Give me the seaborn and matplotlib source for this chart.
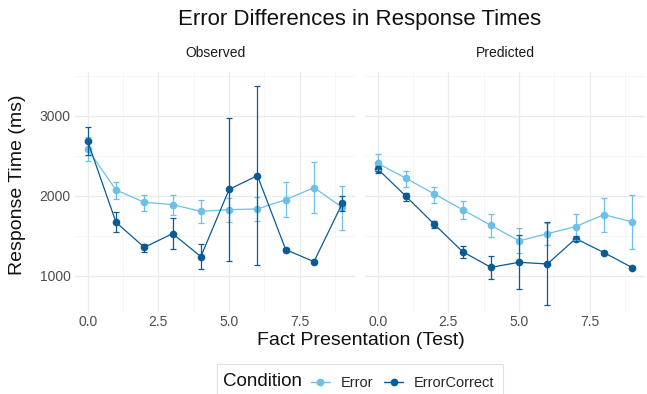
import numpy as np
import pandas as pd
import matplotlib
matplotlib.use("Agg")
import matplotlib.pyplot as plt
from matplotlib.lines import Line2D
from matplotlib.patches import Rectangle
import seaborn as sns

presentations = [0, 1, 2, 3, 4, 5, 6, 7, 8, 9]
conditions = ["Error", "ErrorCorrect"]
panels = ["Observed", "Predicted"]

obs_error = [2583, 2075, 1921, 1892, 1808, 1829, 1838, 1954, 2104, 1858]
obs_error_lo = [2437, 1958, 1817, 1758, 1658, 1671, 1683, 1733, 1783, 1579]
obs_error_hi = [2742, 2179, 2012, 2012, 1950, 1971, 1983, 2179, 2429, 2125]

obs_corr = [2683, 1671, 1358, 1529, 1242, 2083, 2254, 1329, 1179, 1908]
obs_corr_lo = [2512, 1546, 1296, 1333, 1083, 1188, 1138, 1300, 1160, 1810]
obs_corr_hi = [2858, 1796, 1400, 1721, 1400, 2971, 3375, 1355, 1200, 2000]

pred_error = [2408, 2221, 2025, 1829, 1633, 1438, 1529, 1617, 1767, 1675]
pred_error_lo = [2320, 2117, 1917, 1708, 1492, 1283, 1388, 1450, 1546, 1342]
pred_error_hi = [2521, 2313, 2117, 1942, 1771, 1596, 1658, 1775, 1975, 2008]

pred_corr = [2338, 1996, 1646, 1304, 1108, 1171, 1150, 1467, 1292, 1104]
pred_corr_lo = [2283, 1938, 1596, 1221, 958, 833, 637, 1440, 1270, 1085]
pred_corr_hi = [2379, 2033, 1692, 1375, 1254, 1513, 1671, 1495, 1315, 1125]

series = {
    ("Observed", "Error"): (obs_error, obs_error_lo, obs_error_hi),
    ("Observed", "ErrorCorrect"): (obs_corr, obs_corr_lo, obs_corr_hi),
    ("Predicted", "Error"): (pred_error, pred_error_lo, pred_error_hi),
    ("Predicted", "ErrorCorrect"): (pred_corr, pred_corr_lo, pred_corr_hi),
}

rows = []
for (panel, cond), (m, lo, hi) in series.items():
    for x, v, l, h in zip(presentations, m, lo, hi):
        rows.append(dict(panel=panel, cond=cond, x=x, rt=v, lo=l, hi=h))
df = pd.DataFrame(rows)

colors = {"Error": "#6cc0e8", "ErrorCorrect": "#0a5a96"}

sns.set_theme(style="whitegrid")
plt.rcParams["font.family"] = ["Liberation Sans", "DejaVu Sans"]

fig = plt.figure(figsize=(6.47, 3.94), dpi=100)
W, H = 647, 394
TOP, BOT = 72, 313
axes = []
for left, right in [(75, 355), (365, 645)]:
    ax = fig.add_axes([left / W, 1 - BOT / H, (right - left) / W, (BOT - TOP) / H])
    axes.append(ax)

for ax, panel in zip(axes, panels):
    sub = df[df.panel == panel]
    sns.lineplot(data=sub, x="x", y="rt", hue="cond", hue_order=conditions,
                 palette=colors, marker="o", markersize=5.5, markeredgewidth=0,
                 linewidth=0.9, ax=ax, legend=False, errorbar=None)
    for cond in conditions:
        s = sub[sub.cond == cond]
        ax.errorbar(s.x, s.rt, yerr=[s.rt - s.lo, s.hi - s.rt], fmt="none",
                    ecolor=colors[cond], elinewidth=0.9, capsize=2, capthick=0.9)
    ax.set_xlim(-0.45, 9.45)
    ax.set_ylim(537, 3550)
    ax.set_xticks([0, 2.5, 5.0, 7.5])
    ax.set_xticklabels(["0.0", "2.5", "5.0", "7.5"])
    ax.set_xticks([1.25, 3.75, 6.25, 8.75], minor=True)
    ax.set_yticks([1000, 2000, 3000])
    ax.set_yticks([1500, 2500, 3500], minor=True)
    ax.grid(True, which="major", color="#ebebeb", linewidth=0.9)
    ax.grid(True, which="minor", color="#f3f3f3", linewidth=0.5)
    ax.set_facecolor("white")
    for sp in ax.spines.values():
        sp.set_visible(False)
    ax.tick_params(axis="both", which="both", length=0, labelsize=10,
                   labelcolor="#4d4d4d")
    ax.tick_params(axis="x", pad=1.5)
    ax.tick_params(axis="y", pad=3)
    ax.set_xlabel("")
    ax.set_ylabel("")
    ax.set_title(panel, fontsize=10, color="#1a1a1a", pad=11)

axes[1].tick_params(axis="y", labelleft=False)

fig.text(360 / W, 1 - 20 / H, "Error Differences in Response Times",
         ha="center", va="center", fontsize=16, color="#111111")
fig.text(361 / W, 1 - 345 / H, "Fact Presentation (Test)",
         ha="center", va="baseline", fontsize=14, color="#111111")
fig.text(18 / W, 1 - 185 / H, "Response Time (ms)", rotation=90,
         ha="center", va="center", fontsize=14, color="#111111")

# legend box (cut at bottom edge like the reference)
fig.patches.append(Rectangle((217 / W, -0.05), (503 - 217) / W, 0.05 + (394 - 364) / H,
                             transform=fig.transFigure, fill=False,
                             edgecolor="#e0e0e0", linewidth=0.8))
fig.text(223 / W, 1 - 382 / H, "Condition", ha="left", va="center",
         fontsize=13.5, color="#111111")
handles = [Line2D([], [], color=colors[c], marker="o", markersize=4.5,
                  linewidth=1, label=c) for c in conditions]
leg = fig.legend(handles=handles, loc="center left", ncol=2,
                 bbox_to_anchor=(311 / W, 1 - 383 / H), frameon=False,
                 fontsize=10.5, handlelength=1.3, handletextpad=0.75,
                 columnspacing=0.75, borderpad=0, borderaxespad=0)

fig.savefig("out.png", dpi=100)
